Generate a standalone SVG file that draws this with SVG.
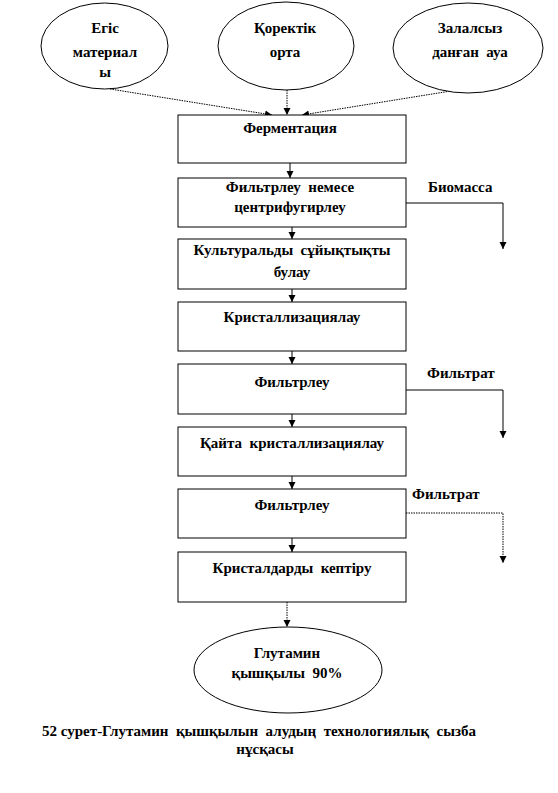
<svg xmlns="http://www.w3.org/2000/svg" width="558" height="793" viewBox="0 0 558 793">
<defs>
<marker id="ah" markerWidth="8" markerHeight="8" refX="7" refY="4" orient="auto" markerUnits="userSpaceOnUse" viewBox="0 0 8 8">
<path d="M0,0.5 L7,4 L0,7.5 Z" fill="#000"/>
</marker>
</defs>
<style>
text{font-family:"Liberation Serif","DejaVu Serif","Times New Roman",serif;font-weight:bold;font-size:15px;fill:#000;text-anchor:middle;white-space:pre}
.box{fill:#fff;stroke:#000;stroke-width:1}
.ell{fill:#fff;stroke:#000;stroke-width:1}
.c{fill:none;stroke:#000;stroke-width:1}
.d{fill:none;stroke:#000;stroke-width:1;stroke-dasharray:1.5,1}
.lbl{text-anchor:start}
</style>
<rect width="558" height="793" fill="#fff"/>
<g id="connectors">
<path class="d" d="M110,89 L272,115" marker-end="url(#ah)"/>
<path class="d" d="M287,90 L287,115" marker-end="url(#ah)"/>
<path class="d" d="M457,90 L302,115" marker-end="url(#ah)"/>
<path class="c" d="M290,163 L290,178" marker-end="url(#ah)"/>
<path class="c" d="M292,227 L292,239" marker-end="url(#ah)"/>
<path class="c" d="M292,289 L292,302" marker-end="url(#ah)"/>
<path class="c" d="M292,351 L292,364" marker-end="url(#ah)"/>
<path class="c" d="M292,414 L292,427" marker-end="url(#ah)"/>
<path class="c" d="M292,476 L292,489" marker-end="url(#ah)"/>
<path class="c" d="M292,538 L292,552" marker-end="url(#ah)"/>
<path class="d" d="M287,602 L287,627" marker-end="url(#ah)"/>
<path class="c" d="M406,203 L503,203 L503,249" marker-end="url(#ah)"/>
<path class="c" d="M406,390 L503,390 L503,438" marker-end="url(#ah)"/>
<path class="d" d="M406,513 L503,513 L503,563" marker-end="url(#ah)"/>
</g>
<g id="e1"><ellipse class="ell" cx="104.5" cy="46" rx="63.5" ry="43"/>
<text x="105" y="33">Егіс</text><text x="105" y="57">материал</text><text x="105" y="77">ы</text></g>
<g id="e2"><ellipse class="ell" cx="286" cy="46" rx="68" ry="44"/>
<text x="285" y="33">Қоректік</text><text x="285" y="57">орта</text></g>
<g id="e3"><ellipse class="ell" cx="468" cy="48" rx="75" ry="45"/>
<text x="470" y="33">Залалсыз</text><text x="470" y="57">данған  ауа</text></g>
<g id="b1"><rect class="box" x="178" y="115" width="228" height="48"/><text x="290" y="133">Ферментация</text></g>
<g id="b2"><rect class="box" x="178" y="178" width="228" height="49"/><text x="290" y="192">Фильтрлеу  немесе</text><text x="290" y="212">центрифугирлеу</text></g>
<g id="b3"><rect class="box" x="178" y="239" width="228" height="50"/><text x="292" y="255">Культуральды  сұйықтықты</text><text x="292" y="277">булау</text></g>
<g id="b4"><rect class="box" x="178" y="302" width="228" height="49"/><text x="292" y="322">Кристаллизациялау</text></g>
<g id="b5"><rect class="box" x="178" y="364" width="228" height="50"/><text x="292" y="387">Фильтрлеу</text></g>
<g id="b6"><rect class="box" x="178" y="427" width="228" height="49"/><text x="292" y="448">Қайта  кристаллизациялау</text></g>
<g id="b7"><rect class="box" x="178" y="489" width="228" height="49"/><text x="292" y="510">Фильтрлеу</text></g>
<g id="b8"><rect class="box" x="178" y="552" width="228" height="50"/><text x="292" y="573">Кристалдарды  кептіру</text></g>
<g id="e4"><ellipse class="ell" cx="288" cy="670" rx="94" ry="43"/>
<text x="287" y="658">Глутамин</text><text x="287" y="678">қышқылы  90%</text></g>
<g id="labels">
<text class="lbl" x="428" y="192">Биомасса</text>
<text class="lbl" x="427" y="378">Фильтрат</text>
<text class="lbl" x="412" y="499">Фильтрат</text>
</g>
<g id="caption">
<text x="259" y="736">52 сурет-Глутамин  қышқылын  алудың  технологиялық  сызба</text>
<text x="265" y="754">нұсқасы</text>
</g>
</svg>
